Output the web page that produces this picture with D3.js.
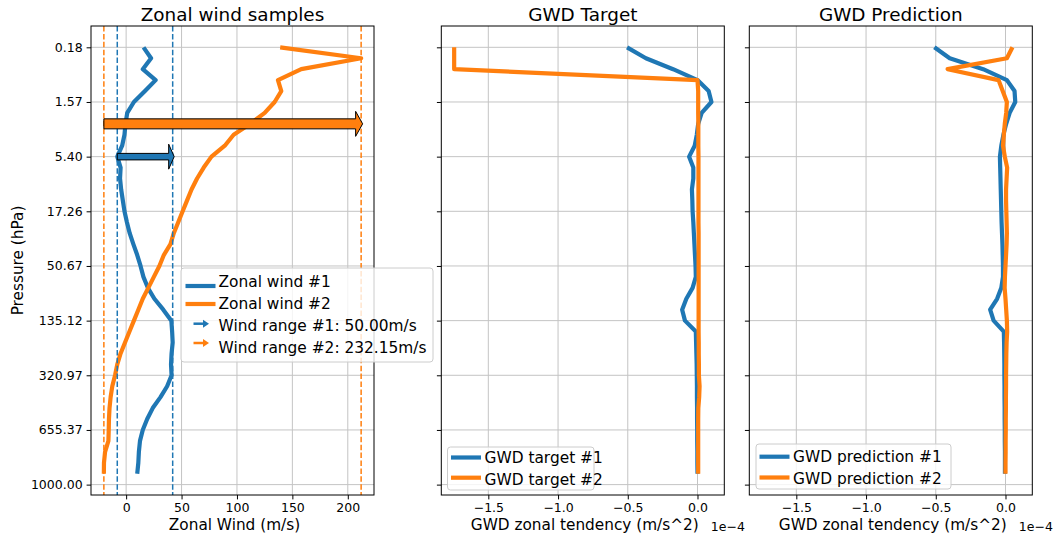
<!DOCTYPE html>
<html>
<head>
<meta charset="utf-8">
<script src="https://cdn.jsdelivr.net/npm/d3@7"></script>
<style>
  body { margin: 0; background: #fff; }
  svg text { font-family: "DejaVu Sans", sans-serif; fill: #000; }
</style>
</head>
<body>
<svg id="chart" width="1061" height="535"></svg>
<script>
// ---- data ----
const levels = d3.range(40);
const pressureTicks = [0, 5, 10, 15, 20, 25, 30, 35, 40];
const pressureLabels = ["0.18", "1.57", "5.40", "17.26", "50.67", "135.12", "320.97", "655.37", "1000.00"];

// zonal wind (m/s) per model level, top to bottom
const wind1 = [15.7, 22.5, 15, 26.6, 17, 7, 1, -0.6, -1.5, -3.6, -8, -5, -5.5, -4.5, -3, -1.5, 0.7, 3.2, 6.5, 10,
  13, 15.6, 19.6, 25.5, 33.5, 40.8, 41.5, 42, 41, 40.5, 41, 37, 31, 24, 19, 15, 12.5, 11.5, 11, 10];
const wind2 = [139, 212.05, 158, 137, 140, 134, 125, 112, 97, 89, 77, 70, 64, 59, 55, 51, 47, 43, 40, 34,
  30, 25, 20, 15, 11, 7, 3, -1, -5, -8, -10, -12.5, -14, -15, -15.5, -15.7, -16, -19, -20, -20.1];

// GWD zonal tendency (1e-4 m/s^2)
const target1 = [-0.505, -0.37, -0.175, 0.0, 0.08, 0.1, 0.03, 0.005, -0.005, -0.02, -0.06, -0.03, -0.03, -0.04, -0.037,
  -0.035, -0.03, -0.026, -0.022, -0.018, -0.014, -0.012, -0.035, -0.08, -0.11, -0.09, -0.012, -0.01, -0.008, -0.006,
  -0.005, -0.004, -0.004, -0.003, -0.003, -0.002, -0.002, -0.001, -0.001, 0.0];
const target2 = [-1.745, -1.745, -1.745, 0.0, 0.005, 0.005, 0.005, 0.006, 0.006, 0.006, 0.007, 0.007, 0.007, 0.007, 0.007,
  0.007, 0.007, 0.008, 0.008, 0.008, 0.008, 0.008, 0.008, 0.008, 0.008, 0.008, 0.008, 0.009, 0.009, 0.01,
  0.01, 0.015, 0.012, 0.006, 0.005, 0.005, 0.005, 0.005, 0.005, 0.005];
const pred1 = [-0.51, -0.4, -0.16, 0.01, 0.065, 0.07, 0.03, 0.005, -0.015, -0.03, -0.04, -0.038, -0.036, -0.034, -0.032,
  -0.03, -0.028, -0.025, -0.022, -0.02, -0.018, -0.018, -0.03, -0.06, -0.11, -0.085, -0.012, -0.01, -0.009, -0.008,
  -0.008, -0.007, -0.007, -0.006, -0.006, -0.005, -0.005, -0.004, -0.004, -0.004];
const pred2 = [0.05, 0.01, -0.415, -0.05, -0.02, 0.01, 0.005, -0.005, -0.012, -0.018, -0.005, 0.012, 0.008, 0.004, 0.004,
  0.006, 0.008, 0.01, 0.008, 0.004, 0.0, -0.004, -0.006, 0.0, 0.005, 0.01, 0.012, 0.008, 0.006, 0.005,
  0.004, 0.004, 0.003, 0.003, 0.002, 0.002, 0.001, 0.001, 0.0, 0.0];

const windTicks = [0, 50, 100, 150, 200];
const gwdTicks = [-1.5, -1.0, -0.5, 0.0];
const arrowLevels = [10, 7]; // where the range arrows are drawn

const blue = "#1f77b4", orange = "#ff7f0e";
const lineW = 4.2;

const svg = d3.select("#chart");
const yTop = 26, yBottom = 495;

// y: model level index, inverted like pressure
const y = d3.scaleLinear()
  .domain([-0.05 * 39, 39 * 1.05])
  .range([yTop, yBottom]);

function padded(values) {
  const [lo, hi] = d3.extent(values);
  const m = (hi - lo) * 0.05;
  return [lo - m, hi + m];
}

const xWind = d3.scaleLinear().domain(padded(wind1.concat(wind2))).range([91, 374]);
const gwdDomain = padded(target1.concat(target2, pred1, pred2));
const xTarget = d3.scaleLinear().domain(gwdDomain).range([441.3, 724.3]);
const xPred = d3.scaleLinear().domain(gwdDomain).range([749.3, 1032.3]);

function drawPanel(x, ticks, fmt, title, xlabel, showYLabels) {
  const [x0, x1] = x.range();
  const g = svg.append("g");

  // grid
  g.selectAll(".vgrid").data(ticks).enter().append("line")
    .attr("x1", d => x(d)).attr("x2", d => x(d))
    .attr("y1", yTop).attr("y2", yBottom)
    .attr("stroke", "#c4c4c4").attr("stroke-width", 1);
  g.selectAll(".hgrid").data(pressureTicks).enter().append("line")
    .attr("x1", x0).attr("x2", x1)
    .attr("y1", d => y(d)).attr("y2", d => y(d))
    .attr("stroke", "#c4c4c4").attr("stroke-width", 1);

  // axes
  const xAxis = d3.axisBottom(x).tickValues(ticks).tickFormat(fmt).tickSize(4.4).tickPadding(4);
  const ax = svg.append("g").attr("transform", `translate(0,${yBottom})`).call(xAxis);
  ax.select(".domain").remove();
  ax.selectAll("text").attr("font-size", "12.5px").attr("font-family", "DejaVu Sans");

  const yAxis = d3.axisLeft(y).tickValues(pressureTicks)
    .tickFormat((d, i) => showYLabels ? pressureLabels[i] : "").tickSize(4.4).tickPadding(4);
  const ay = svg.append("g").attr("transform", `translate(${x0},0)`).call(yAxis);
  ay.select(".domain").remove();
  ay.selectAll("text").attr("font-size", "12.5px").attr("font-family", "DejaVu Sans");

  svg.append("text")
    .attr("x", (x0 + x1) / 2).attr("y", 20.7)
    .attr("text-anchor", "middle").attr("font-size", "18.4px")
    .text(title);
  svg.append("text")
    .attr("x", (x0 + x1) / 2 + 2).attr("y", 529.5)
    .attr("text-anchor", "middle").attr("font-size", "15.3px")
    .text(xlabel);
  return g;
}

function frame(x) {
  const [x0, x1] = x.range();
  svg.append("rect")
    .attr("x", x0).attr("y", yTop).attr("width", x1 - x0).attr("height", yBottom - yTop)
    .attr("fill", "none").attr("stroke", "#000").attr("stroke-width", 1);
}

function profile(g, x, values, color) {
  const line = d3.line().x(d => x(d)).y((d, i) => y(levels[i]));
  g.append("path")
    .datum(values)
    .attr("d", line)
    .attr("fill", "none")
    .attr("stroke", color)
    .attr("stroke-width", lineW)
    .attr("stroke-linejoin", "round");
}

// ---- panel 1: zonal wind ----
const g1 = drawPanel(xWind, windTicks, d3.format("d"), "Zonal wind samples", "Zonal Wind (m/s)", true);
profile(g1, xWind, wind1, blue);
profile(g1, xWind, wind2, orange);

const winds = [wind1, wind2];
const colors = [blue, orange];
winds.forEach((w, k) => {
  d3.extent(w).forEach(v => {
    g1.append("line")
      .attr("x1", xWind(v)).attr("x2", xWind(v))
      .attr("y1", yTop).attr("y2", yBottom)
      .attr("stroke", colors[k]).attr("stroke-width", 1.5)
      .attr("stroke-dasharray", "5.5,2.4");
  });
});

const arrowWidth = [6.5, 10], headLen = [5.5, 7], headWidth = 25;
winds.forEach((w, k) => {
  const [lo, hi] = d3.extent(w);
  const xs = xWind(lo), xt = xWind(hi) + 1.5, yc = y(arrowLevels[k]);
  const xb = xt - headLen[k], hw = arrowWidth[k] / 2, hh = headWidth / 2;
  const pts = [[xs, yc - hw], [xb, yc - hw], [xb, yc - hh], [xt, yc], [xb, yc + hh], [xb, yc + hw], [xs, yc + hw]];
  g1.append("path")
    .attr("d", "M" + pts.map(p => p.join(",")).join("L") + "Z")
    .attr("fill", colors[k]).attr("stroke", "#000").attr("stroke-width", 1);
});
frame(xWind);

// legend 1
const leg1 = svg.append("g");
leg1.append("rect").attr("x", 181).attr("y", 268).attr("width", 252).attr("height", 94).attr("rx", 3)
  .attr("fill", "#fff").attr("fill-opacity", 0.8).attr("stroke", "#cccccc");
const leg1Labels = ["Zonal wind #1", "Zonal wind #2",
  `Wind range #1: ${(d3.max(wind1) - d3.min(wind1)).toFixed(2)}m/s`,
  `Wind range #2: ${(d3.max(wind2) - d3.min(wind2)).toFixed(2)}m/s`];
const leg1Base = [287, 309, 330.5, 352.5];
const leg1Mark = [286, 304, 323.7, 343];
leg1Labels.forEach((t, i) => {
  const c = colors[i % 2];
  if (i < 2) {
    leg1.append("line").attr("x1", 185.5).attr("x2", 215.5)
      .attr("y1", leg1Mark[i]).attr("y2", leg1Mark[i])
      .attr("stroke", c).attr("stroke-width", lineW);
  } else {
    const ym = leg1Mark[i];
    leg1.append("line").attr("x1", 193.5).attr("x2", 204).attr("y1", ym).attr("y2", ym)
      .attr("stroke", c).attr("stroke-width", 2.5);
    leg1.append("path").attr("d", `M203,${ym - 4}L209,${ym}L203,${ym + 4}Z`).attr("fill", c);
  }
  leg1.append("text").attr("x", 218.5).attr("y", leg1Base[i]).attr("font-size", "15.4px").text(t);
});

// ---- panels 2 and 3: GWD ----
const gwdFmt = d3.format(".1f");
const g2 = drawPanel(xTarget, gwdTicks, gwdFmt, "GWD Target", "GWD zonal tendency (m/s^2)", false);
profile(g2, xTarget, target1, blue);
profile(g2, xTarget, target2, orange);
frame(xTarget);

const g3 = drawPanel(xPred, gwdTicks, gwdFmt, "GWD Prediction", "GWD zonal tendency (m/s^2)", false);
profile(g3, xPred, pred1, blue);
profile(g3, xPred, pred2, orange);
frame(xPred);

[xTarget, xPred].forEach(x => {
  svg.append("text").attr("x", x.range()[1] - 13.5).attr("y", 531)
    .attr("font-size", "12.5px").text("1e\u22124");
});

function smallLegend(bx, by, bw, bh, labels, markY, baseY) {
  const lg = svg.append("g");
  lg.append("rect").attr("x", bx).attr("y", by).attr("width", bw).attr("height", bh).attr("rx", 3)
    .attr("fill", "#fff").attr("fill-opacity", 0.8).attr("stroke", "#cccccc");
  labels.forEach((t, i) => {
    lg.append("line").attr("x1", bx + 3.5).attr("x2", bx + 33.5)
      .attr("y1", markY[i]).attr("y2", markY[i])
      .attr("stroke", colors[i]).attr("stroke-width", lineW);
    lg.append("text").attr("x", bx + 37).attr("y", baseY[i]).attr("font-size", "15.4px").text(t);
  });
}
smallLegend(447.5, 447, 146.5, 43, ["GWD target #1", "GWD target #2"], [457.5, 477.7], [463, 484.5]);
smallLegend(756, 444, 195, 45, ["GWD prediction #1", "GWD prediction #2"], [456.7, 477.5], [462, 484]);

// y label
svg.append("text")
  .attr("transform", "translate(22.5,260.5) rotate(-90)")
  .attr("text-anchor", "middle").attr("font-size", "15.3px")
  .text("Pressure (hPa)");
</script>
</body>
</html>
